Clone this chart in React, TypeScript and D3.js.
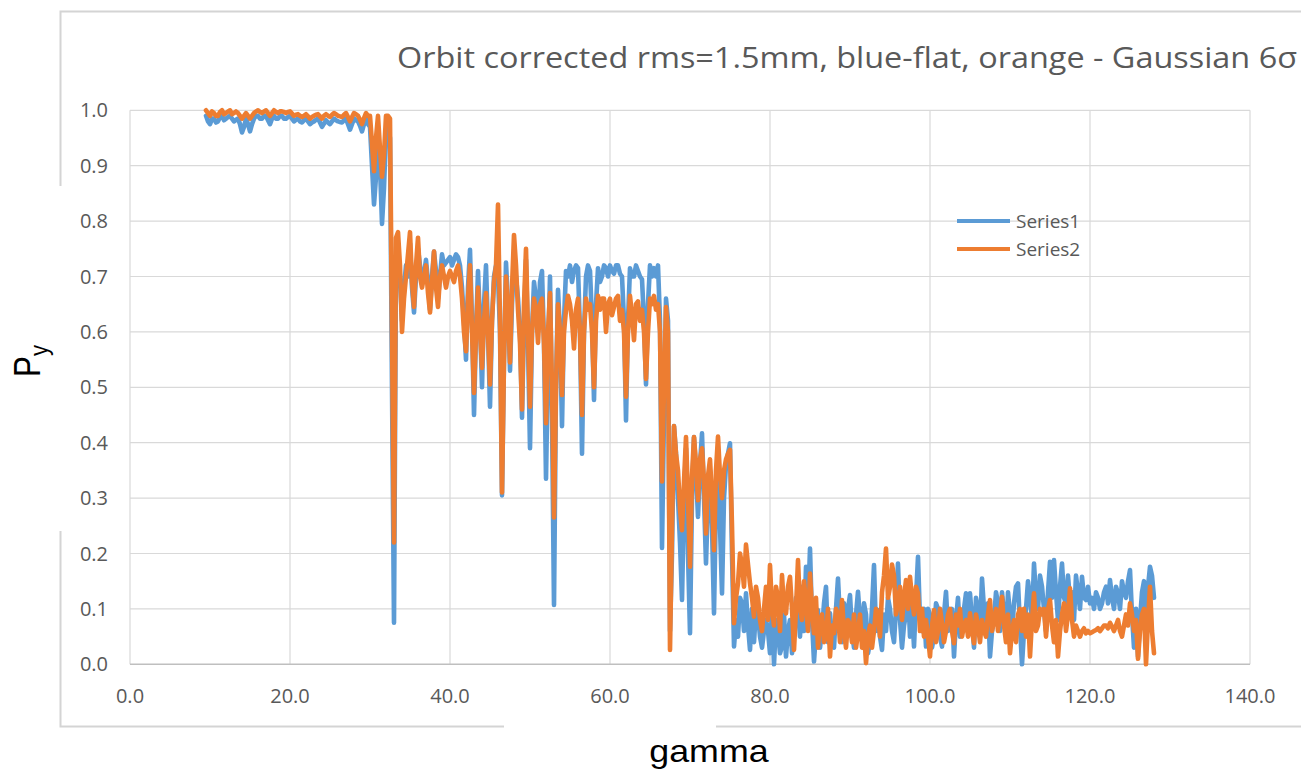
import React from "react";
import * as d3 from "d3";

const TITLE = "Orbit corrected rms=1.5mm, blue-flat, orange - Gaussian 6σ";
const X_LABEL = "gamma";
const SERIES_NAMES = ["Series1", "Series2"];
const COLORS = ["#5B9BD5", "#ED7D31"];
const X_TICKS = [0, 20, 40, 60, 80, 100, 120, 140];
const Y_TICKS = [0, 0.1, 0.2, 0.3, 0.4, 0.5, 0.6, 0.7, 0.8, 0.9, 1.0];

// sample grid: values read at gamma = 9.5, 10.0, 10.5, ... (coarse)
// and at the half-steps 9.75, 10.25, ... (mid)
const GAMMA_START = 9.5;
const GAMMA_STEP = 0.25;

// Series1 (blue, flat)
const SERIES1_COARSE = [
  0.99, 0.975, 0.985, 0.98, 0.99, 0.985, 0.99, 0.98, 0.985, 0.96,
  0.985, 0.962, 0.985, 0.99, 0.985, 0.99, 0.975, 0.99, 0.985, 0.99,
  0.985, 0.99, 0.98, 0.985, 0.978, 0.985, 0.975, 0.98, 0.985, 0.97,
  0.982, 0.975, 0.985, 0.98, 0.978, 0.985, 0.965, 0.985, 0.98, 0.962,
  0.985, 0.97, 0.83, 0.97, 0.795, 0.96, 0.95, 0.075, 0.74, 0.62,
  0.72, 0.76, 0.635, 0.75, 0.69, 0.73, 0.64, 0.745, 0.66, 0.74,
  0.725, 0.735, 0.73, 0.735, 0.68, 0.55, 0.748, 0.45, 0.71, 0.5,
  0.72, 0.465, 0.7, 0.7, 0.305, 0.725, 0.53, 0.72, 0.66, 0.445,
  0.73, 0.39, 0.69, 0.6, 0.71, 0.335, 0.7, 0.107, 0.676, 0.43,
  0.71, 0.72, 0.71, 0.715, 0.38, 0.7, 0.71, 0.477, 0.715, 0.7,
  0.715, 0.72, 0.705, 0.72, 0.7, 0.44, 0.715, 0.7, 0.71, 0.695,
  0.505, 0.72, 0.715, 0.72, 0.21, 0.66, 0.06, 0.43, 0.3, 0.116,
  0.39, 0.056, 0.41, 0.266, 0.417, 0.182, 0.35, 0.092, 0.38, 0.128,
  0.36, 0.399, 0.032, 0.05, 0.11, 0.128, 0.026, 0.04, 0.09, 0.03,
  0.08, 0.02, 0.0, 0.06, 0.032, 0.014, 0.08, 0.068, 0.1, 0.14,
  0.176, 0.209, 0.005, 0.098, 0.06, 0.14, 0.092, 0.03, 0.155, 0.04,
  0.07, 0.125, 0.03, 0.131, 0.062, 0.09, 0.04, 0.179, 0.098, 0.026,
  0.06, 0.1, 0.04, 0.182, 0.03, 0.09, 0.05, 0.032, 0.194, 0.06,
  0.032, 0.09, 0.05, 0.1, 0.032, 0.131, 0.08, 0.014, 0.12, 0.06,
  0.128, 0.128, 0.03, 0.1, 0.155, 0.06, 0.014, 0.08, 0.11, 0.13,
  0.05, 0.09, 0.11, 0.146, 0.0, 0.1, 0.12, 0.182, 0.1, 0.14,
  0.06, 0.185, 0.188, 0.08, 0.182, 0.11, 0.115, 0.08, 0.13, 0.158,
  0.116, 0.11, 0.1, 0.12, 0.11, 0.14, 0.152, 0.1, 0.128, 0.15,
  0.12, 0.17, 0.03, 0.014, 0.13, 0.09, 0.176, 0.12,
];
const SERIES1_MID = [
  0.98, 0.985, 0.978, 0.988, 0.982, 0.988, 0.985, 0.983, 0.975, 0.97,
  0.975, 0.975, 0.99, 0.985, 0.99, 0.982, 0.985, 0.985, 0.99, 0.985,
  0.988, 0.985, 0.983, 0.98, 0.982, 0.98, 0.978, 0.983, 0.978, 0.976,
  0.978, 0.98, 0.982, 0.979, 0.982, 0.975, 0.975, 0.982, 0.972, 0.975,
  0.975, 0.9, 0.88, 0.9, 0.86, 0.97, 0.5, 0.72, 0.7, 0.68,
  0.7, 0.68, 0.7, 0.72, 0.705, 0.69, 0.7, 0.71, 0.7, 0.72,
  0.73, 0.72, 0.74, 0.72, 0.62, 0.68, 0.62, 0.6, 0.62, 0.65,
  0.6, 0.62, 0.72, 0.6, 0.55, 0.65, 0.65, 0.7, 0.6, 0.62,
  0.58, 0.6, 0.66, 0.69, 0.58, 0.55, 0.45, 0.5, 0.6, 0.62,
  0.7, 0.69, 0.72, 0.6, 0.6, 0.72, 0.62, 0.65, 0.69, 0.72,
  0.7, 0.71, 0.72, 0.705, 0.62, 0.62, 0.7, 0.72, 0.7, 0.62,
  0.65, 0.7, 0.7, 0.62, 0.45, 0.62, 0.2, 0.38, 0.22, 0.3,
  0.2, 0.3, 0.35, 0.36, 0.3, 0.3, 0.25, 0.3, 0.25, 0.3,
  0.38, 0.2, 0.08, 0.12, 0.06, 0.07, 0.1, 0.1, 0.05, 0.06,
  0.06, 0.1, 0.08, 0.02, 0.09, 0.06, 0.02, 0.12, 0.05, 0.06,
  0.1, 0.08, 0.06, 0.03, 0.11, 0.04, 0.05, 0.1, 0.08, 0.11,
  0.1, 0.06, 0.09, 0.08, 0.11, 0.02, 0.1, 0.06, 0.05, 0.09,
  0.12, 0.06, 0.1, 0.08, 0.07, 0.14, 0.1, 0.12, 0.08, 0.1,
  0.1, 0.03, 0.11, 0.05, 0.09, 0.06, 0.1, 0.08, 0.05, 0.1,
  0.07, 0.08, 0.12, 0.06, 0.1, 0.11, 0.06, 0.13, 0.06, 0.09,
  0.13, 0.06, 0.14, 0.07, 0.06, 0.15, 0.08, 0.12, 0.16, 0.1,
  0.13, 0.12, 0.13, 0.14, 0.12, 0.16, 0.13, 0.16, 0.1, 0.12,
  0.14, 0.12, 0.13, 0.1, 0.13, 0.11, 0.12, 0.14, 0.1, 0.13,
  0.15, 0.09, 0.1, 0.08, 0.15, 0.14, 0.16,
];

// Series2 (orange, Gaussian 6 sigma)
const SERIES2_COARSE = [
  1.0, 0.99, 0.995, 0.99, 1.0, 0.995, 1.0, 0.995, 0.995, 0.985,
  0.995, 0.985, 0.995, 1.0, 0.995, 1.0, 0.99, 1.0, 0.995, 0.998,
  0.995, 0.998, 0.99, 0.993, 0.988, 0.993, 0.985, 0.99, 0.993, 0.985,
  0.993, 0.988, 0.995, 0.99, 0.988, 0.995, 0.98, 0.995, 0.99, 0.975,
  0.995, 0.99, 0.89, 0.99, 0.88, 0.99, 0.985, 0.22, 0.78, 0.6,
  0.7, 0.78, 0.645, 0.77, 0.68, 0.72, 0.635, 0.745, 0.645, 0.72,
  0.68, 0.71, 0.69, 0.72, 0.66, 0.565, 0.72, 0.49, 0.68, 0.535,
  0.67, 0.505, 0.69, 0.83, 0.31, 0.7, 0.545, 0.775, 0.64, 0.46,
  0.75, 0.465, 0.66, 0.58, 0.66, 0.435, 0.67, 0.265, 0.65, 0.486,
  0.64, 0.65, 0.57, 0.66, 0.45, 0.66, 0.65, 0.5, 0.665, 0.66,
  0.6, 0.66, 0.645, 0.665, 0.64, 0.483, 0.665, 0.585, 0.655, 0.64,
  0.515, 0.66, 0.665, 0.65, 0.33, 0.645, 0.026, 0.43, 0.35, 0.242,
  0.41, 0.176, 0.41, 0.296, 0.39, 0.236, 0.37, 0.206, 0.411, 0.3,
  0.37, 0.387, 0.074, 0.146, 0.18, 0.216, 0.146, 0.086, 0.12, 0.06,
  0.14, 0.179, 0.07, 0.12, 0.161, 0.092, 0.158, 0.026, 0.188, 0.08,
  0.11, 0.164, 0.056, 0.03, 0.09, 0.05, 0.014, 0.056, 0.09, 0.116,
  0.03, 0.07, 0.09, 0.056, 0.03, 0.002, 0.07, 0.06, 0.092, 0.13,
  0.209, 0.14, 0.16, 0.11, 0.08, 0.152, 0.158, 0.09, 0.128, 0.1,
  0.08, 0.014, 0.098, 0.06, 0.075, 0.06, 0.1, 0.038, 0.07, 0.05,
  0.08, 0.092, 0.038, 0.07, 0.08, 0.05, 0.116, 0.08, 0.06, 0.122,
  0.04, 0.02, 0.08, 0.09, 0.06, 0.05, 0.014, 0.128, 0.07, 0.09,
  0.05, 0.116, 0.04, 0.014, 0.09, 0.06, 0.137, 0.05, 0.06, 0.06,
  0.056, 0.056, 0.06, 0.065, 0.065, 0.07, 0.075, 0.06, 0.08, 0.05,
  0.09, 0.11, 0.06, 0.01, 0.09, 0.0, 0.14, 0.02,
];
const SERIES2_MID = [
  0.995, 0.998, 0.99, 0.997, 0.993, 0.998, 0.993, 0.998, 0.99, 0.99,
  0.99, 0.99, 0.998, 0.997, 0.998, 0.995, 0.995, 0.997, 0.998, 0.997,
  0.997, 0.994, 0.992, 0.99, 0.99, 0.989, 0.988, 0.992, 0.989, 0.99,
  0.99, 0.992, 0.993, 0.989, 0.992, 0.988, 0.988, 0.993, 0.983, 0.986,
  0.99, 0.94, 0.95, 0.93, 0.92, 0.99, 0.6, 0.77, 0.72, 0.66,
  0.74, 0.69, 0.72, 0.7, 0.7, 0.67, 0.69, 0.68, 0.7, 0.7,
  0.7, 0.7, 0.71, 0.7, 0.6, 0.66, 0.6, 0.6, 0.6, 0.62,
  0.6, 0.62, 0.72, 0.62, 0.55, 0.64, 0.68, 0.72, 0.58, 0.65,
  0.6, 0.6, 0.64, 0.65, 0.58, 0.6, 0.5, 0.5, 0.6, 0.6,
  0.665, 0.62, 0.64, 0.6, 0.6, 0.64, 0.6, 0.62, 0.64, 0.66,
  0.65, 0.63, 0.66, 0.62, 0.6, 0.6, 0.63, 0.65, 0.62, 0.6,
  0.6, 0.65, 0.64, 0.6, 0.5, 0.6, 0.25, 0.38, 0.28, 0.33,
  0.3, 0.34, 0.36, 0.37, 0.33, 0.34, 0.3, 0.35, 0.34, 0.35,
  0.38, 0.25, 0.12, 0.2, 0.14, 0.18, 0.12, 0.14, 0.08, 0.1,
  0.08, 0.1, 0.14, 0.06, 0.1, 0.14, 0.1, 0.1, 0.1, 0.15,
  0.06, 0.1, 0.12, 0.08, 0.04, 0.1, 0.07, 0.1, 0.04, 0.06,
  0.08, 0.04, 0.03, 0.09, 0.06, 0.05, 0.03, 0.1, 0.05, 0.16,
  0.12, 0.18, 0.09, 0.14, 0.12, 0.1, 0.12, 0.14, 0.06, 0.05,
  0.05, 0.07, 0.04, 0.1, 0.04, 0.09, 0.06, 0.09, 0.1, 0.07,
  0.05, 0.06, 0.09, 0.04, 0.06, 0.09, 0.06, 0.1, 0.09, 0.07,
  0.09, 0.06, 0.04, 0.1, 0.1, 0.09, 0.08, 0.06, 0.1, 0.1,
  0.1, 0.07, 0.08, 0.06, 0.11, 0.09, 0.08, 0.07, 0.05, 0.065,
  0.06, 0.058, 0.062, 0.06, 0.07, 0.065, 0.068, 0.07, 0.06, 0.07,
  0.07, 0.09, 0.08, 0.06, 0.1, 0.08, 0.06,
];

function interleave(coarse: number[], mid: number[]): number[] {
  const out: number[] = [];
  coarse.forEach((v, i) => {
    out.push(v);
    if (i < mid.length) out.push(mid[i]);
  });
  return out;
}

const W = 1301;
const H = 774;

export default function App() {
  const x = d3.scaleLinear().domain([0, 140]).range([130, 1250]);
  const y = d3.scaleLinear().domain([0, 1]).range([664.3, 110.3]);
  const fmt = d3.format(".1f");
  const series = [
    interleave(SERIES1_COARSE, SERIES1_MID),
    interleave(SERIES2_COARSE, SERIES2_MID),
  ];
  const line = d3
    .line<number>()
    .x((_, i) => x(GAMMA_START + GAMMA_STEP * i))
    .y((d) => y(d));
  const tickFont = "'Open Sans', 'DejaVu Sans', sans-serif";
  const gridColor = "#d9d9d9";

  return (
    <svg
      width={W}
      height={H}
      style={{ position: "absolute", left: 0, top: 0, background: "#fff" }}
    >
      <rect x={0} y={0} width={W} height={H} fill="#fff" />
      {/* chart frame */}
      <rect x={60.5} y={11.5} width={1300} height={715} fill="#fff" stroke="#d4d4d4" strokeWidth={2} />
      {/* white boxes behind the axis titles */}
      <rect x={0} y={186} width={63} height={345} fill="#fff" />
      <rect x={504} y={718} width={212} height={56} fill="#fff" />

      {/* gridlines */}
      {Y_TICKS.filter((t) => t > 0).map((t) => (
        <line key={"gy" + t} x1={x(0)} x2={x(140)} y1={y(t)} y2={y(t)} stroke={gridColor} strokeWidth={1.2} />
      ))}
      {X_TICKS.map((t) => (
        <line key={"gx" + t} x1={x(t)} x2={x(t)} y1={y(0)} y2={y(1)} stroke={gridColor} strokeWidth={1.2} />
      ))}
      <line x1={x(0)} x2={x(140)} y1={y(0)} y2={y(0)} stroke="#bfbfbf" strokeWidth={1.5} />

      {/* tick labels */}
      {Y_TICKS.map((t) => (
        <text key={"ly" + t} x={108} y={y(t)} dy="0.35em" textAnchor="end" fontFamily={tickFont} fontSize={20} fill="#595959">
          {fmt(t)}
        </text>
      ))}
      {X_TICKS.map((t) => (
        <text key={"lx" + t} x={x(t)} y={695.5} dy="0.35em" textAnchor="middle" fontFamily={tickFont} fontSize={20} fill="#595959">
          {fmt(t)}
        </text>
      ))}

      {/* series */}
      {series.map((s, k) => (
        <path key={"s" + k} d={line(s) || ""} fill="none" stroke={COLORS[k]} strokeWidth={4.6} strokeLinejoin="round" strokeLinecap="round" />
      ))}

      {/* title */}
      <text x={397} y={68} fontFamily={tickFont} fontSize={29} fill="#595959" textLength={900} lengthAdjust="spacingAndGlyphs">
        {TITLE}
      </text>

      {/* legend */}
      {SERIES_NAMES.map((n, k) => (
        <g key={"lg" + k}>
          <line x1={957} x2={1010} y1={221 + 28 * k} y2={221 + 28 * k} stroke={COLORS[k]} strokeWidth={4} />
          <text x={1016} y={221 + 28 * k} dy="0.35em" fontFamily={tickFont} fontSize={19} fill="#595959">
            {n}
          </text>
        </g>
      ))}

      {/* axis titles */}
      <text x={709} y={762} textAnchor="middle" fontFamily="'Liberation Sans', Arial, sans-serif" fontSize={32} fill="#000" transform="translate(709,0) scale(1.12,1) translate(-709,0)">
        {X_LABEL}
      </text>
      <text transform="translate(40,377) rotate(-90) scale(0.85,1)" fontFamily="'Liberation Sans', Arial, sans-serif" fill="#000">
        <tspan fontSize={37}>P</tspan>
        <tspan fontSize={26} dy={8}>y</tspan>
      </text>
    </svg>
  );
}
